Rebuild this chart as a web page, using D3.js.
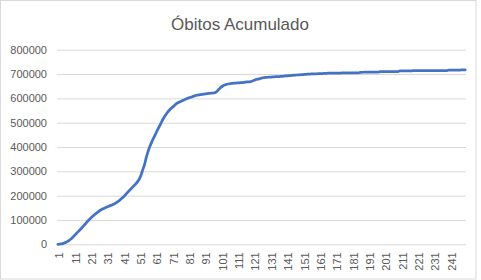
<!DOCTYPE html>
<html lang="pt">
	<head>
		<meta charset="utf-8">
		<title>Óbitos Acumulado</title>
		<style type="text/css">
			body {
				margin: 0;
				background-color: white;
			}
			text {
				font-family: "Liberation Sans", Arial, sans-serif;
				fill: #595959;
			}
		</style>
		<script src="https://d3js.org/d3.v7.min.js"></script>
	</head>
	<body>
		<script type="text/javascript">
			//Data: cumulative deaths per period
			var title = "Óbitos Acumulado";
			var yTicks = [0, 100000, 200000, 300000, 400000, 500000, 600000, 700000, 800000];
			var obitos = [
				100, 600, 1500, 3000, 5500, 8500, 12000, 16000, 21500, 28000,
				35000, 42000, 49000, 56000, 63000, 70000, 78000, 85000, 93000, 100000,
				107000, 113000, 119000, 125000, 130000, 135000, 140000, 144000, 147000, 150000,
				153000, 156000, 159000, 162000, 165000, 168000, 172000, 177000, 182000, 188000,
				194000, 201000, 208000, 216000, 223000, 230000, 237000, 244000, 251000, 260000,
				271000, 287000, 308000, 328000, 355000, 378000, 398000, 414000, 429000, 443000,
				457000, 471000, 484000, 497000, 511000, 522000, 533000, 542000, 550000, 557000,
				563000, 569000, 575000, 580000, 584000, 587000, 590000, 593000, 596000, 599000,
				602000, 604000, 606000, 609000, 611000, 613000, 614000, 615000, 616000, 617000,
				618000, 619000, 620000, 621000, 621500, 622000, 623000, 627000, 634000, 641000,
				647000, 652000, 655000, 657000, 659000, 660000, 661000, 662000, 662500, 663000,
				663500, 664000, 664500, 665000, 666000, 667000, 667500, 668000, 669000, 671000,
				674000, 677000, 679000, 680000, 682000, 684000, 685000, 686000, 686500, 687000,
				687500, 688000, 688500, 689000, 689000, 689500, 690000, 690500, 691000, 692000,
				692500, 693000, 693500, 694000, 695000, 695500, 696000, 696500, 697000, 697500,
				698000, 698500, 699000, 699500, 700000, 700300, 700500, 700700, 701000, 701200,
				701400, 701700, 702000, 702400, 702800, 703200, 703500, 703600, 703700, 703800,
				703900, 704000, 704100, 704200, 704300, 704400, 704500, 704600, 704700, 704800,
				704900, 705000, 705000, 705100, 705200, 707000, 707200, 707400, 707500, 707600,
				707700, 707800, 707900, 708000, 708000, 708100, 708200, 709500, 709600, 709700,
				709700, 709800, 709800, 709900, 709900, 710000, 710000, 710100, 710100, 713000,
				713100, 713200, 713200, 713300, 713300, 713400, 713400, 713500, 713500, 713500,
				713600, 713600, 713600, 713700, 713700, 713700, 713800, 713800, 713800, 713900,
				713900, 713900, 714000, 714000, 714000, 714000, 714100, 714100, 714100, 716200,
				716300, 716300, 716400, 716400, 716500, 716500, 716500, 716600, 716600, 716600
			];
			var periodos = d3.range(1, obitos.length + 1);
			var xTickLabels = periodos.filter(function(d) { return (d - 1) % 10 === 0; });

			//Width and height
			var w = 481;
			var h = 280;
			var plotLeft = 57;
			var plotRight = 466;
			var plotTop = 49.7;
			var plotBottom = 244.3;

			var svg = d3.select("body")
						.append("svg")
						.attr("width", w)
						.attr("height", h);

			//Chart border
			svg.append("rect")
				.attr("x", 0.5)
				.attr("y", 0.5)
				.attr("width", 475.5)
				.attr("height", 278.5)
				.attr("fill", "white")
				.attr("stroke", "#d9d9d9");

			//Create scale functions
			var xScale = d3.scaleBand()
							.domain(periodos)
							.range([plotLeft, plotRight])
							.padding(0);

			var yScale = d3.scaleLinear()
							.domain([0, 800000])
							.range([plotBottom, plotTop]);

			//Gridlines + y labels
			var yAxis = d3.axisLeft(yScale)
							.tickValues(yTicks)
							.tickSize(-(plotRight - plotLeft))
							.tickPadding(10)
							.tickFormat(d3.format("d"));

			var gy = svg.append("g")
				.attr("class", "y axis")
				.attr("transform", "translate(" + plotLeft + ",0)")
				.call(yAxis);
			gy.select(".domain").remove();
			gy.selectAll("line")
				.attr("stroke", "#d9d9d9")
				.attr("stroke-width", 1);
			gy.selectAll("text")
				.attr("font-size", "11px")
				.style("fill", "#595959");

			//X axis (rotated labels)
			var xAxis = d3.axisBottom(xScale)
							.tickValues(xTickLabels)
							.tickSize(0)
							.tickPadding(0);

			var gx = svg.append("g")
				.attr("class", "x axis")
				.attr("transform", "translate(0," + plotBottom + ")")
				.call(xAxis);
			gx.select(".domain").remove();
			gx.selectAll("text")
				.attr("font-size", "11px")
				.style("fill", "#595959")
				.attr("text-anchor", "end")
				.attr("dy", "0.35em")
				.attr("transform", "translate(1.5,8) rotate(-90)")
				.attr("x", 0)
				.attr("y", 0);

			//Create line
			var line = d3.line()
				.x(function(d, i) { return xScale(periodos[i]) + xScale.bandwidth() / 2; })
				.y(function(d) { return yScale(d); })
				.curve(d3.curveMonotoneX);

			svg.append("path")
				.datum(obitos)
				.attr("d", line)
				.attr("fill", "none")
				.attr("stroke", "#4472c4")
				.attr("stroke-width", 2.75)
				.attr("stroke-linejoin", "round")
				.attr("stroke-linecap", "round");

			//Title
			svg.append("text")
				.attr("x", 240)
				.attr("y", 30)
				.attr("text-anchor", "middle")
				.attr("font-size", "17px")
				.text(title);
		</script>
	</body>
</html>
